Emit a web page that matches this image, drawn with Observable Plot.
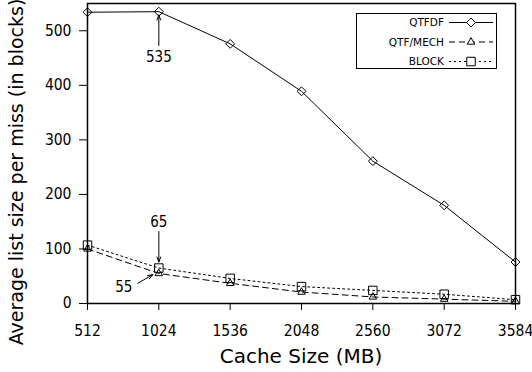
<!DOCTYPE html>
<html>
<head>
<meta charset="utf-8">
<script src="https://cdn.jsdelivr.net/npm/d3@7"></script>
<script src="https://cdn.jsdelivr.net/npm/@observablehq/plot@0.6"></script>
<style>
  html, body { margin: 0; padding: 0; background: #fff; }
  #chart { width: 532px; height: 372px; }
</style>
</head>
<body>
<div id="chart"></div>
<script>
const cacheSizes = [512, 1024, 1536, 2048, 2560, 3072, 3584];
const qtfdf = [534, 535, 476, 389, 261, 180, 76];
const qtfMech = [100, 55, 37, 21, 12, 8, 4];
const block = [107, 65, 46, 31, 24, 17, 7];
const seriesNames = ["QTFDF", "QTF/MECH", "BLOCK"];
const yTicks = [0, 100, 200, 300, 400, 500];
const xTitle = "Cache Size (MB)";
const yTitle = "Average list size per miss (in blocks)";
const annotations = [
  {label: "535", tx: 1024, ty: 451, x1: 1024, y1: 473, x2: 1024, y2: 529},
  {label: "65", tx: 1024, ty: 149, x1: 1024, y1: 132, x2: 1024, y2: 76},
  {label: "55", tx: 773, ty: 29, x1: 873, y1: 37, x2: 981, y2: 53}
];

const FONT = "DejaVu Sans, Verdana, sans-serif";
const NUMFONT = "'DejaVu Sans Condensed', 'Liberation Sans', Arial, sans-serif";
const styles = {
  "QTFDF": {dash: null, symbol: "diamond2", r: 4},
  "QTF/MECH": {dash: "6,4", symbol: "triangle2", r: 3.6},
  "BLOCK": {dash: "2,3", symbol: "square2", r: 5.4}
};
const seriesValues = [qtfdf, qtfMech, block];
const rows = [];
seriesNames.forEach((name, i) => {
  cacheSizes.forEach((c, j) => rows.push({series: name, x: c, y: seriesValues[i][j]}));
});

const marks = [];
for (const name of seriesNames) {
  const data = rows.filter(d => d.series === name);
  const st = styles[name];
  marks.push(Plot.line(data, {x: "x", y: "y", stroke: "black", strokeWidth: 1, strokeDasharray: st.dash}));
  marks.push(Plot.dot(data, {x: "x", y: "y", symbol: () => st.symbol, r: st.r, stroke: "black", strokeWidth: 1, fill: "none"}));
}
marks.push(Plot.arrow(annotations, {x1: "x1", y1: "y1", x2: "x2", y2: "y2", stroke: "black", strokeWidth: 1, headLength: 8, headAngle: 40}));
marks.push(Plot.text(annotations, {x: "tx", y: "ty", text: "label", fontSize: 15, fontFamily: NUMFONT, fill: "black"}));

const chart = Plot.plot({
  width: 532,
  height: 372,
  marginLeft: 87,
  marginRight: 17,
  marginTop: 3,
  marginBottom: 69,
  style: {fontFamily: NUMFONT, fontSize: "15.5px", color: "black", background: "white"},
  x: {domain: [512, 3584]},
  y: {domain: [0, 550]},
  marks: [
    Plot.axisX({ticks: cacheSizes, tickFormat: d => String(d), tickSize: 7, tickPadding: 14, label: null, fontSize: 15.5, stroke: "black"}),
    Plot.axisY({ticks: yTicks, tickSize: 8, tickPadding: 8, label: null, fontSize: 15.5, stroke: "black"}),
    Plot.frame({stroke: "black", strokeWidth: 1.5}),
    ...marks
  ]
});

document.getElementById("chart").appendChild(chart);
const svg = d3.select(chart);

// axis titles
svg.append("text").attr("x", 301).attr("y", 356).attr("dy", "0.35em").attr("text-anchor", "middle")
  .attr("font-family", FONT).attr("font-size", 20).attr("fill", "black").text(xTitle);
svg.append("text").attr("transform", "translate(16,172) rotate(-90)").attr("dy", "0.35em").attr("text-anchor", "middle")
  .attr("font-family", FONT).attr("font-size", 19).attr("fill", "black").text(yTitle);

// legend
const lg = svg.append("g").attr("font-family", FONT).attr("font-size", 10.5);
lg.append("rect").attr("x", 356.5).attr("y", 13.5).attr("width", 140).attr("height", 55).attr("fill", "white").attr("stroke", "black");
const sym = d3.scaleOrdinal().domain(["diamond2","triangle2","square2"]).range([d3.symbolDiamond2, d3.symbolTriangle2, d3.symbolSquare2]);
seriesNames.forEach((name, i) => {
  const yy = 22.5 + i * 19.5;
  const st = styles[name];
  lg.append("text").attr("x", 444).attr("y", yy).attr("dy", "0.35em").attr("text-anchor", "end").text(name);
  lg.append("line").attr("x1", 449).attr("x2", 493).attr("y1", yy).attr("y2", yy).attr("stroke", "black").attr("stroke-dasharray", st.dash);
  lg.append("path").attr("transform", `translate(471,${yy})`).attr("d", d3.symbol(sym(st.symbol), Math.PI * st.r * st.r)()).attr("fill", "white").attr("stroke", "black");
});
</script>
</body>
</html>
